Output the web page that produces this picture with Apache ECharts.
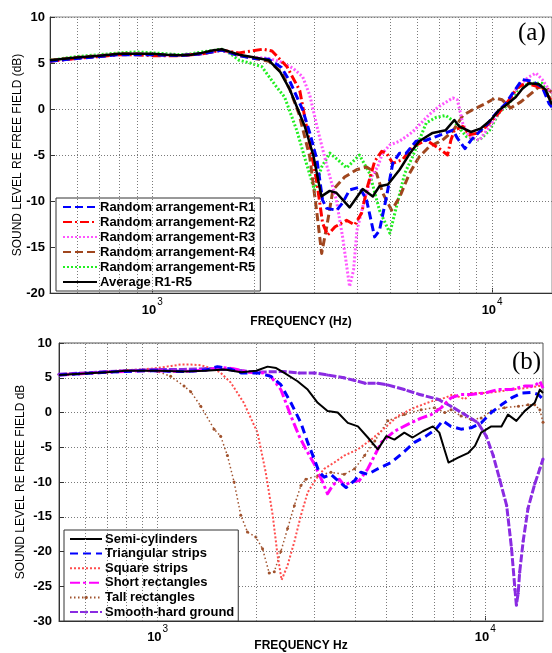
<!DOCTYPE html>
<html><head><meta charset="utf-8">
<script src="https://cdn.jsdelivr.net/npm/echarts@6/dist/echarts.min.js"></script>
<style>html,body{margin:0;padding:0;background:#fff}#c{width:552px;height:653px}</style>
</head><body><div id="c"></div>
<script>
// ---------- Panel (a) data: frequency (Hz) and sound level (dB) ----------
const fA_R1 = [500,600,700,800,900,1000,1200,1400,1600,1800,2000,2200,2400,2540,2770,2906,3050,3170,3260,3490,3630,3806,4070,4270,4510,4660,4890,5100,5340,5590,5970,6390,6840,7310,7660,7910,8320,8660,9160,9690,10250,10970,11580,12270,13130,14040,14700,15000];
const vA_R1 = [5.2,5.5,5.7,5.9,5.9,5.9,5.8,6.0,6.4,5.8,5.5,5.4,4.5,3.0,-0.1,-2.6,-5.5,-9.9,-10.8,-11.0,-10.2,-8.8,-8.5,-9.9,-13.9,-13.2,-9.5,-5.9,-4.8,-4.8,-3.5,-3.4,-3.0,-2.6,-2.3,-3.2,-4.3,-3.4,-2.5,-1.6,-0.5,0.6,1.9,3.2,3.0,2.4,0.6,0.2];
const fA_R2 = [500,600,700,800,900,1000,1100,1200,1300,1400,1600,1800,1950,2115,2250,2490,2716,2906,3050,3170,3280,3450,3730,3940,4130,4300,4510,4730,4890,5100,5450,5830,6400,6990,7390,7560,7740,8200,8560,9160,9830,10480,11220,11850,12540,13130,14040,14700,15000];
const vA_R2 = [5.2,5.5,5.7,5.9,5.9,5.8,5.8,5.8,5.9,6.0,6.4,6.1,6.3,6.5,6.3,4.6,2.0,-3.8,-8.0,-12.4,-13.7,-12.8,-12.1,-12.6,-11.3,-8.4,-5.7,-4.6,-4.8,-5.9,-5.5,-4.1,-3.4,-4.3,-5.0,-3.4,-2.3,-1.9,-2.8,-2.6,-1.5,-0.4,1.0,2.3,2.8,2.6,2.3,1.3,0.8];
const fA_R3 = [500,600,700,800,900,1000,1200,1400,1600,1800,2000,2200,2400,2600,2770,2906,3070,3270,3480,3630,3806,3910,4000,4210,4410,4600,4760,5000,5340,5830,6530,6990,7660,7900,8200,8560,9160,9830,10480,11220,12000,12840,13460,14040,14700,15000];
const vA_R3 = [5.2,5.5,5.8,5.9,6.0,5.9,5.8,6.0,6.4,5.8,5.6,5.5,5.1,4.4,3.5,1.5,-2.3,-6.3,-9.9,-13.9,-19.3,-17.5,-13.2,-9.9,-7.4,-6.3,-4.8,-3.9,-3.5,-2.5,-0.6,0.3,1.2,1.0,-1.6,-3.0,-3.4,-1.9,-0.4,1.0,2.6,3.5,3.9,3.2,2.1,1.8];
const fA_R4 = [500,600,700,800,900,1000,1200,1400,1600,1800,2000,2200,2400,2540,2700,2906,3050,3150,3260,3400,3680,3990,4270,4570,4760,5060,5340,5710,6100,6530,7130,7660,8200,8740,9560,10200,10700,11340,12170,13040,13730,14400,15000];
const vA_R4 = [5.3,5.6,5.8,6.0,6.0,5.9,5.8,6.0,6.4,5.8,5.5,5.2,4.0,2.1,-0.5,-5.2,-11.3,-15.7,-12.8,-8.8,-7.4,-6.6,-6.3,-7.0,-9.1,-11.0,-9.6,-7.0,-5.2,-4.1,-3.4,-2.4,-0.7,-0.1,0.6,1.2,1.0,0.1,0.8,1.7,2.4,2.3,1.8];
const fA_R5 = [500,600,700,800,900,1000,1100,1200,1300,1400,1600,1700,1800,1940,2100,2320,2450,2660,2840,3000,3150,3330,3510,3730,4070,4360,4660,5000,5230,5530,5830,6400,6850,7300,7740,8400,9160,9830,10480,11220,12000,13130,14040,14700,15000];
const vA_R5 = [5.3,5.7,5.9,6.1,6.2,6.1,6.0,5.9,6.0,6.2,6.5,6.0,5.3,5.0,4.6,2.4,1.3,-2.3,-5.9,-8.8,-6.3,-4.8,-5.5,-6.4,-5.0,-7.0,-11.0,-13.5,-10.6,-7.0,-5.2,-1.5,-0.9,-0.7,-1.4,-3.0,-3.4,-2.3,-0.4,0.6,2.4,2.8,2.8,1.3,1.0];
const fA_AVG = [500,600,700,800,900,1000,1100,1200,1300,1400,1500,1600,1700,1800,2000,2200,2380,2540,2810,2980,3145,3326,3480,3806,4160,4455,4660,4934,5340,5710,6100,6680,7300,7740,8000,8660,9270,9910,10480,10970,11740,12270,12840,13730,14370,14770,15000];
const vA_AVG = [5.3,5.6,5.8,6.0,6.0,6.0,5.9,5.85,5.9,6.1,6.35,6.5,6.2,5.9,5.6,5.3,4.0,2.1,-1.9,-5.1,-9.5,-8.9,-9.1,-10.7,-8.7,-9.5,-8.4,-8.2,-6.6,-4.9,-3.5,-2.6,-2.3,-1.2,-1.9,-2.5,-2.1,-1.2,-0.1,0.4,1.3,2.2,2.8,2.7,2.1,1.0,0.5];

// ---------- Panel (b) data ----------
const fB_SEMI = [500,600,700,800,900,1000,1200,1400,1600,1800,2000,2165,2300,2435,2673,2870,3080,3300,3545,3805,4085,4380,4700,4990,5280,5660,6000,6450,6920,7240,7500,7720,8260,8880,9300,9710,10430,11200,11730,12440,13180,14150,14670,15000];
const vB_SEMI = [5.4,5.6,5.8,6.0,6.0,6.0,5.9,6.0,6.2,5.8,6.0,6.6,6.4,5.7,4.5,3.3,1.4,0.2,0.0,-1.5,-2.0,-3.6,-5.3,-3.4,-3.9,-2.9,-3.6,-2.7,-2.0,-2.9,-5.3,-7.2,-6.5,-5.8,-4.8,-2.9,-2.0,-2.0,-0.3,-1.2,0.2,1.4,3.3,2.8];
const fB_TRI = [500,600,700,800,900,1000,1200,1400,1522,1650,1795,2017,2216,2377,2551,2737,2870,3006,3112,3224,3380,3586,3760,3990,4170,4380,4700,5160,5600,6080,6590,7070,7410,7860,8430,9050,9710,10430,11200,12020,12910,13860,14510,15000];
const vB_TRI = [5.4,5.6,5.8,5.9,6.0,6.0,5.9,6.1,6.6,6.3,5.7,5.7,5.2,4.0,1.4,-1.5,-4.3,-6.7,-8.6,-9.3,-8.9,-10.0,-10.8,-9.8,-8.6,-8.9,-8.1,-7.2,-5.8,-4.3,-3.4,-2.4,-1.2,-2.0,-2.4,-2.2,-1.5,0.0,1.1,2.1,2.8,2.9,2.6,1.9];
const fB_SQ = [500,600,700,800,900,1000,1100,1176,1262,1354,1450,1550,1672,1832,2017,2137,2245,2322,2390,2492,2613,2737,2870,3040,3224,3460,3710,4085,4480,4810,5410,6080,6840,7520,7970,8660,9050,9950,10930,12020,13180,14510,15000];
const vB_SQ = [5.5,5.7,5.9,6.1,6.2,6.4,6.7,6.9,6.9,6.8,6.4,5.8,4.3,1.4,-2.9,-8.6,-14.8,-20.5,-24.1,-22.0,-18.6,-14.8,-11.5,-9.6,-8.1,-7.2,-6.2,-5.3,-3.9,-2.7,-0.5,0.7,1.6,2.1,2.6,1.9,2.8,2.8,3.0,3.3,3.5,3.8,3.8];
const fB_SHORT = [500,600,700,800,900,1000,1200,1400,1550,1700,1900,2100,2216,2377,2551,2704,2835,3006,3188,3300,3420,3586,3710,3890,4125,4380,4640,4810,5280,5800,6370,6840,7340,7860,8430,9050,9950,10930,12020,13180,14150,14670,15000];
const vB_SHORT = [5.4,5.6,5.8,5.9,6.0,6.0,5.9,6.1,6.5,6.3,5.8,5.7,5.2,3.3,-0.5,-3.4,-5.3,-7.4,-10.0,-11.7,-10.5,-9.6,-10.5,-10.0,-9.8,-8.1,-5.8,-4.3,-2.7,-1.7,-0.8,-0.3,0.7,2.1,2.6,2.6,2.8,3.3,3.3,3.8,3.8,4.5,3.5];
const fB_TALL = [500,600,700,800,900,1000,1096,1204,1262,1354,1487,1557,1633,1711,1794,1880,1994,2090,2190,2270,2377,2492,2613,2737,2835,3080,3380,3710,3990,4280,4600,5040,5660,6370,7000,7520,7860,8430,9050,9710,10430,11440,12620,13500,14150,14670,15000];
const vB_TALL = [5.5,5.7,5.8,6.0,6.0,5.9,5.2,3.8,3.0,0.9,-2.4,-3.4,-6.2,-10.0,-14.8,-17.2,-17.9,-19.6,-23.1,-22.9,-20.0,-16.7,-13.4,-10.5,-9.6,-9.1,-8.6,-8.9,-8.1,-6.2,-4.1,-1.2,-0.3,0.4,0.7,0.0,0.4,-0.5,-1.0,-0.8,0.2,0.7,0.9,1.1,1.1,0.4,-1.4];
const fB_SMOOTH = [500,600,700,800,900,1000,1200,1400,1600,1800,2000,2400,2700,3000,3300,3700,4000,4300,4700,5000,5660,6300,7170,7860,8660,9500,10070,10570,11060,11620,12020,12320,12440,12600,12730,13050,13500,14150,14670,15000];
const vB_SMOOTH = [5.5,5.7,5.9,6.0,6.1,6.2,6.2,6.3,6.2,6.0,5.8,5.9,5.7,5.7,5.4,5.0,4.6,4.2,4.2,4.0,3.3,2.6,1.9,0.9,-0.3,-1.5,-3.4,-6.2,-9.6,-13.4,-19.5,-25.5,-27.7,-26.0,-23.0,-18.5,-13.8,-10.3,-8.1,-6.7];

// ---------- axes / labels ----------
const gridFreqs = [600,700,800,900,1000,2000,3000,4000,5000,6000,7000,8000,9000,10000];
const namesA = ['Random arrangement-R1','Random arrangement-R2','Random arrangement-R3','Random arrangement-R4','Random arrangement-R5','Average R1-R5'];
const namesB = ['Semi-cylinders','Triangular strips','Square strips','Short rectangles','Tall rectangles','Smooth-hard ground'];

const FONT = 'Liberation Sans';
const chart = echarts.init(document.getElementById('c'), null, {renderer:'canvas'});
function pairs(f, v){ return f.map((x, i) => [x, v[i]]); }
function line(name, f, v, idx, color, width, dash, z, extra){
  return Object.assign({
    name, type:'line', xAxisIndex:idx, yAxisIndex:idx, data:pairs(f, v),
    symbol:'none', showSymbol:false, smooth:false, z:z, animation:false, silent:true,
    lineStyle:{color, width, type:dash, cap:'butt', join:'round'}, itemStyle:{color},
    emphasis:{disabled:true}
  }, extra || {});
}
function gridSeries(idx){
  return {type:'line', xAxisIndex:idx, yAxisIndex:idx, data:[], z:1, silent:true, animation:false,
    markLine:{silent:true, symbol:'none', animation:false, label:{show:false},
      lineStyle:{color:'#7a7a7a', width:1, type:[1,2]},
      emphasis:{disabled:true},
      data: gridFreqs.map(f => ({xAxis:f}))}};
}
function xFmt(v){
  const e = Math.log10(v);
  if (Math.abs(e - Math.round(e)) < 1e-6) return '{b|10}{s|' + Math.round(e) + '}';
  return '';
}
const xRich = {
  b:{fontFamily:FONT, fontSize:13, fontWeight:'bold', color:'#000', verticalAlign:'bottom', lineHeight:20},
  s:{fontFamily:FONT, fontSize:10, color:'#000', verticalAlign:'top', lineHeight:20, padding:[0,0,0,1]}
};
function xAxis(idx, name, gap, margin){
  return {type:'log', logBase:10, min:500, max:15000, gridIndex:idx,
    axisLine:{show:true, onZero:false, lineStyle:{color:'#333', width:1}},
    axisTick:{show:true, inside:true, length:5, lineStyle:{color:'#333'}},
    splitLine:{show:false},
    axisLabel:{formatter:xFmt, rich:xRich, margin, showMinLabel:false, showMaxLabel:false},
    name, nameLocation:'middle', nameGap:gap, nameMoveOverlap:false,
    nameTextStyle:{fontFamily:FONT, fontSize:12, fontWeight:'bold', color:'#000'}};
}
function yAxis(idx, min, name, gap, margin){
  return {type:'value', gridIndex:idx, min, max:10, interval:5,
    axisLine:{show:true, lineStyle:{color:'#333', width:1}},
    axisTick:{show:true, inside:true, length:5, lineStyle:{color:'#333'}},
    splitLine:{show:true, lineStyle:{color:'#7a7a7a', width:1, type:[1,2]}},
    axisLabel:{fontFamily:FONT, fontSize:13, fontWeight:'bold', color:'#000', margin},
    name, nameLocation:'middle', nameRotate:90, nameGap:gap, nameMoveOverlap:false,
    nameTextStyle:{fontFamily:FONT, fontSize:12, color:'#000'}};
}
const legendBase = {orient:'vertical', selectedMode:false, borderColor:'#333', borderWidth:1,
  backgroundColor:'#fff', itemHeight:4,
  itemStyle:{color:'rgba(0,0,0,0)', borderWidth:0},
  textStyle:{fontFamily:FONT, fontSize:13, fontWeight:'bold', color:'#000', lineHeight:14, padding:[0,0,0,-2]}};

const option = {
  backgroundColor:'#fff',
  animation:false,
  grid:[
    {left:50, top:17, width:503, height:276, show:true, borderColor:'#888', borderWidth:1, backgroundColor:'transparent'},
    {left:59, top:343, width:484, height:280, show:true, borderColor:'#555', borderWidth:1, backgroundColor:'transparent'}
  ],
  xAxis:[xAxis(0, 'FREQUENCY (Hz)', 23, 4), xAxis(1, 'FREQUENCY Hz', 19, 3)],
  yAxis:[yAxis(0, -20, 'SOUND LEVEL RE FREE FIELD (dB)', 26, 5), yAxis(1, -30, 'SOUND LEVEL RE FREE FIELD dB', 32, 7)],
  legend:[
    Object.assign({}, legendBase, {left:56, top:198, itemWidth:34, itemGap:1, padding:[2,5,2,6],
      data:namesA.map(n => ({name:n}))}),
    Object.assign({}, legendBase, {left:64, top:530, itemWidth:32, itemGap:0.6, padding:[2,4,2,5],
      data:namesB.map(n => (n === 'Tall rectangles' ? {name:n, itemStyle:{color:'#a0522d'}} :
        n === 'Smooth-hard ground' ? {name:n, itemStyle:{color:'#8a2be2'}} : {name:n}))})
  ],
  graphic:[
    {type:'text', left:518, top:21, z:100, style:{text:'(a)', font:'25px "Liberation Serif"', fill:'#000'}},
    {type:'text', left:512, top:350, z:100, style:{text:'(b)', font:'25px "Liberation Serif"', fill:'#000'}}
  ],
  series:[
    gridSeries(0),
    line(namesA[4], fA_R5, vA_R5, 0, '#22ee22', 3, [2,2], 3),
    line(namesA[3], fA_R4, vA_R4, 0, '#a0461e', 3, [8,4], 4),
    line(namesA[2], fA_R3, vA_R3, 0, '#ff55ff', 3, [2,2], 5),
    line(namesA[1], fA_R2, vA_R2, 0, '#ff0000', 3, [9,3,2,3], 6),
    line(namesA[0], fA_R1, vA_R1, 0, '#0000ff', 3, [8,4], 7),
    line(namesA[5], fA_AVG, vA_AVG, 0, '#000000', 2.5, 'solid', 8),
    gridSeries(1),
    line(namesB[4], fB_TALL, vB_TALL, 1, '#a0522d', 1.5, [1.5,2.5], 3,
      {symbol:'circle', showSymbol:true, symbolSize:3}),
    line(namesB[2], fB_SQ, vB_SQ, 1, '#ff4d4d', 2, [2,2], 4),
    line(namesB[5], fB_SMOOTH, vB_SMOOTH, 1, '#8a2be2', 3, [8,2], 5,
      {symbol:'circle', showSymbol:true, symbolSize:3}),
    line(namesB[3], fB_SHORT, vB_SHORT, 1, '#ff00ff', 3, [10,3,3,3], 6),
    line(namesB[1], fB_TRI, vB_TRI, 1, '#0000ff', 3, [8,5], 7),
    line(namesB[0], fB_SEMI, vB_SEMI, 1, '#000000', 2, 'solid', 8)
  ]
};
chart.setOption(option);
</script></body></html>
